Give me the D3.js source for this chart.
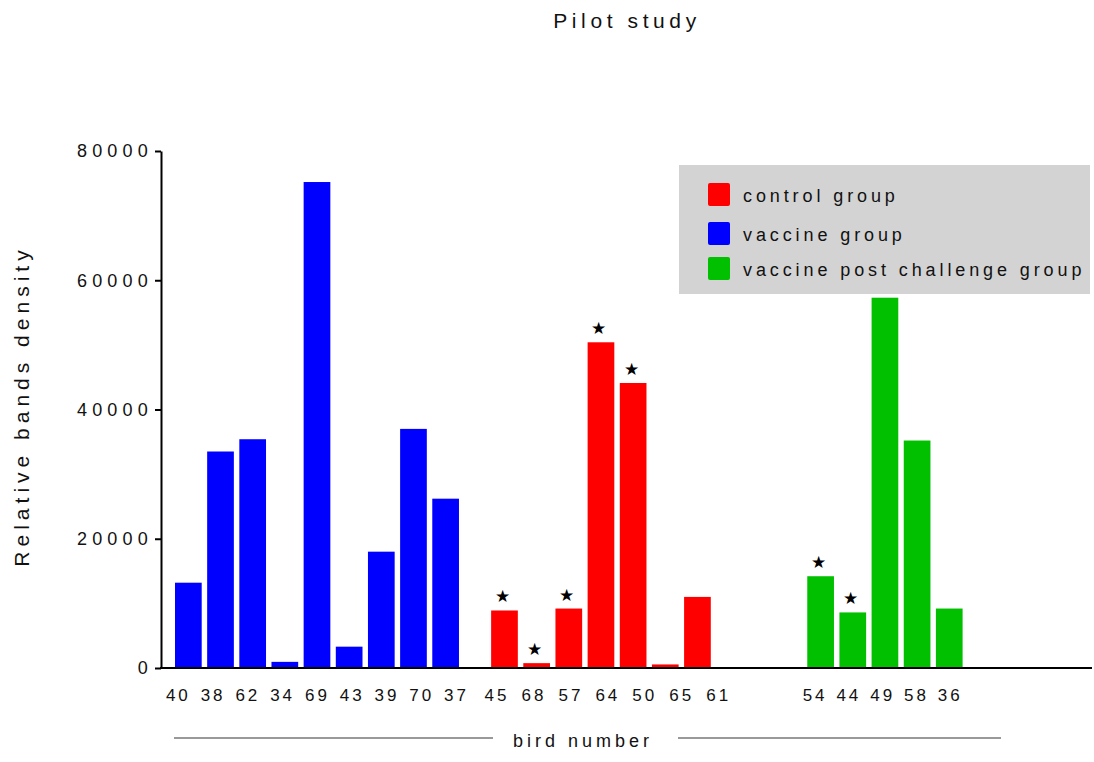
<!DOCTYPE html>
<html>
  <head>
    <meta charset="UTF-8" />
    <script src="https://cdn.jsdelivr.net/npm/d3@7"></script>
    <style>
      body { margin: 0; background: #fff; }
      text { font-family: "Liberation Sans", Arial, sans-serif; }
    </style>
  </head>
  <body>
    <svg></svg>
    <script>
      // data
      const groupNames = ["control group", "vaccine group", "vaccine post challenge group"]
      const groupColors = ["#ff0000", "#0000ff", "#00c000"]

      const vaccineBirds = ["40", "38", "62", "34", "69", "43", "39", "70", "37"]
      const vaccineValues = [13200, 33500, 35400, 950, 75200, 3300, 18000, 37000, 26200]
      const vaccineStars = [0, 0, 0, 0, 0, 0, 0, 0, 0]

      const controlBirds = ["45", "68", "57", "64", "50", "65", "61"]
      const controlValues = [8900, 750, 9200, 50400, 44100, 550, 11000]
      const controlStars = [1, 1, 1, 1, 1, 0, 0]

      const postBirds = ["54", "44", "49", "58", "36"]
      const postValues = [14200, 8600, 57300, 35200, 9200]
      const postStars = [1, 1, 0, 0, 0]

      const yTicks = [0, 20000, 40000, 60000, 80000]

      // 1. setup
      const width = 1094
      const height = 762
      const svg = d3.select("svg").attr("width", width).attr("height", height)

      // bars laid out in slots, groups separated by extra empty slots;
      // the labels under each group drift a little to the right (as in the original)
      const groups = [
        { g: 1, birds: vaccineBirds, values: vaccineValues, stars: vaccineStars, gap: 0, drift: 2.6, shift: -11.5 },
        { g: 0, birds: controlBirds, values: controlValues, stars: controlStars, gap: 0.83, drift: 4.8, shift: -9 },
        { g: 2, birds: postBirds, values: postValues, stars: postStars, gap: 2.83, drift: 1.6, shift: -7 },
      ]
      const bars = []
      let slot = -1
      groups.forEach((grp) => {
        slot += grp.gap
        grp.birds.forEach((b, i) => {
          slot += 1
          bars.push({
            bird: b,
            value: grp.values[i],
            star: grp.stars[i],
            g: grp.g,
            slot,
            lab: grp.shift + grp.drift * i,
          })
        })
      })

      const x = d3.scaleLinear().domain([0, 1]).range([175, 207.16])
      const bw = 26.7
      const y = d3.scaleLinear().domain([0, 80000]).range([668, 151])

      // 2. y axis
      svg
        .append("g")
        .attr("transform", "translate(161,0)")
        .call(d3.axisLeft(y).tickValues(yTicks).tickFormat(d3.format("d")).tickSize(6).tickSizeOuter(0))
        .call((g) => g.select(".domain").attr("stroke-width", 2))
        .call((g) => g.selectAll(".tick line").attr("stroke-width", 2))
        .call((g) =>
          g
            .selectAll(".tick text")
            .attr("font-size", 18)
            .attr("font-family", "Liberation Sans, Arial, sans-serif")
            .attr("letter-spacing", 5.2)
            .attr("fill", "#111")
            .attr("x", -8)
        )

      // x axis line
      svg
        .append("line")
        .attr("x1", 160)
        .attr("x2", 1092)
        .attr("y1", y(0))
        .attr("y2", y(0))
        .attr("stroke", "#000")
        .attr("stroke-width", 2)

      // 3. bars
      svg
        .append("g")
        .selectAll("rect")
        .data(bars)
        .join("rect")
        .attr("x", (d) => x(d.slot))
        .attr("y", (d) => y(d.value))
        .attr("width", bw)
        .attr("height", (d) => y(0) - y(d.value) - 1)
        .attr("fill", (d) => groupColors[d.g])

      // stars
      svg
        .append("g")
        .selectAll("text")
        .data(bars.filter((d) => d.star))
        .join("text")
        .attr("x", (d) => x(d.slot) + bw / 2 - 2)
        .attr("y", (d) => y(d.value) - 8)
        .attr("text-anchor", "middle")
        .attr("font-size", 17)
        .attr("font-family", "DejaVu Sans, sans-serif")
        .text("\u2605")

      // bird labels
      svg
        .append("g")
        .selectAll("text")
        .data(bars)
        .join("text")
        .attr("x", (d) => x(d.slot) + bw / 2 + d.lab + 1.5)
        .attr("y", 701)
        .attr("text-anchor", "middle")
        .attr("font-size", 17)
        .attr("letter-spacing", 3)
        .attr("fill", "#111")
        .text((d) => d.bird)

      // 4. axis titles
      svg
        .append("text")
        .attr("x", 627)
        .attr("y", 28)
        .attr("text-anchor", "middle")
        .attr("font-size", 21)
        .attr("letter-spacing", 4.6)
        .attr("fill", "#111")
        .text("Pilot study")

      svg
        .append("text")
        .attr("transform", "translate(29,406) rotate(-90)")
        .attr("text-anchor", "middle")
        .attr("font-size", 21)
        .attr("letter-spacing", 5)
        .attr("fill", "#111")
        .text("Relative bands density")

      svg
        .append("text")
        .attr("x", 583)
        .attr("y", 747)
        .attr("text-anchor", "middle")
        .attr("font-size", 18)
        .attr("letter-spacing", 4)
        .attr("fill", "#111")
        .text("bird number")

      svg
        .append("g")
        .attr("stroke", "#777")
        .attr("stroke-width", 1.3)
        .selectAll("line")
        .data([[174, 493], [678, 1001]])
        .join("line")
        .attr("x1", (d) => d[0])
        .attr("x2", (d) => d[1])
        .attr("y1", 738)
        .attr("y2", 738)

      // 5. legend
      const legend = svg.append("g")
      legend
        .append("rect")
        .attr("x", 679)
        .attr("y", 165)
        .attr("width", 411)
        .attr("height", 129)
        .attr("fill", "#d3d3d3")

      const item = legend
        .selectAll("g")
        .data(groupNames)
        .join("g")
        .attr("transform", (d, i) => `translate(708,${[183, 222, 257][i]})`)
      item
        .append("rect")
        .attr("width", 22)
        .attr("height", 23)
        .attr("rx", 2)
        .attr("fill", (d, i) => groupColors[i])
      item
        .append("text")
        .attr("x", 35)
        .attr("y", 19)
        .attr("font-size", 18)
        .attr("letter-spacing", 3.9)
        .attr("fill", "#111")
        .text((d) => d)
    </script>
  </body>
</html>
